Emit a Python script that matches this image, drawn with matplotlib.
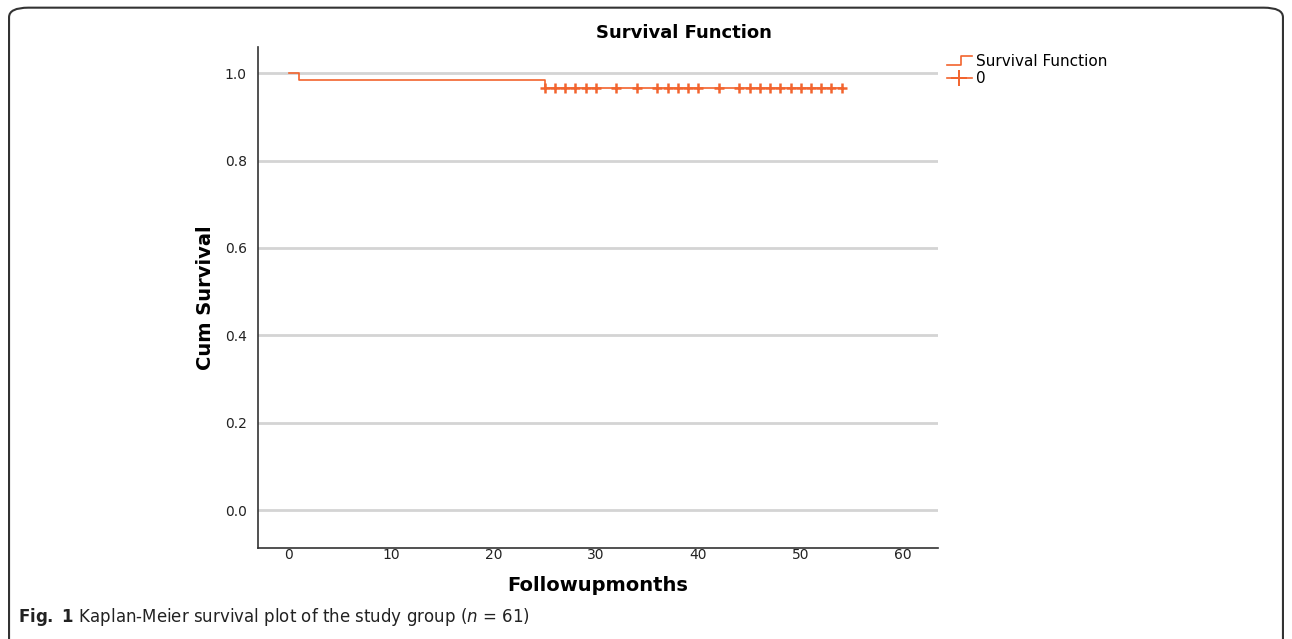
import numpy as np
import matplotlib
matplotlib.use("Agg")
import matplotlib.pyplot as plt
from matplotlib.lines import Line2D
from matplotlib.legend_handler import HandlerBase
from matplotlib.patches import FancyBboxPatch

# Kaplan-Meier step values (n = 61, two events)
step_times = [0, 1, 25, 54]
step_surv = [1.0, 60 / 61, 59 / 61, 59 / 61]

# censored follow-up times (months)
censor_times = [25, 26, 27, 28, 29, 30, 32, 34, 36, 37, 38, 39, 40, 42,
                44, 45, 46, 47, 48, 49, 50, 51, 52, 53, 54]
censor_surv = [59 / 61] * len(censor_times)

xticks = [0, 10, 20, 30, 40, 50, 60]
yticks = [0.0, 0.2, 0.4, 0.6, 0.8, 1.0]

col = "#f2642e"
fontsize = 10


class StepHandler(HandlerBase):
    # small step icon for the survival curve entry
    def create_artists(self, legend, orig_handle, xdescent, ydescent,
                       width, height, fontsize, trans):
        xs = [0, width * 0.55, width * 0.55, width]
        ys = [height * 0.1, height * 0.1, height * 0.9, height * 0.9]
        ln = Line2D(xs, ys, color=orig_handle.get_color(),
                    linewidth=orig_handle.get_linewidth(), transform=trans)
        return [ln]


fig = plt.figure(figsize=(12.92, 6.39), dpi=100)
ax = fig.add_axes([0.1997, 0.1424, 0.5263, 0.784])

for y in yticks:
    ax.axhline(y, color="#d4d4d4", linewidth=2, zorder=1)

ax.step(step_times, step_surv, where="post", color=col, linewidth=1.2, zorder=3)
ax.plot(censor_times, censor_surv, linestyle="none", marker="+", markersize=7,
        markeredgewidth=1.8, color=col, zorder=4)

ax.set_xlim(-3.0, 63.4)
ax.set_ylim(-0.087, 1.06)
ax.set_xticks(xticks)
ax.set_yticks(yticks)
ax.set_xticklabels([str(t) for t in xticks])
ax.set_yticklabels([f"{t:.1f}" for t in yticks])
ax.tick_params(length=0, labelsize=fontsize, colors="#222222", pad=8)
ax.tick_params(axis="x", pad=0)

for s in ["top", "right"]:
    ax.spines[s].set_visible(False)
for s in ["left", "bottom"]:
    ax.spines[s].set_color("#333333")
    ax.spines[s].set_linewidth(1.2)

fig.text(684 / 1292, 1 - 33 / 639, "Survival Function", fontsize=13,
         fontweight="bold", ha="center", va="center")
ax.set_xlabel("Followupmonths", fontsize=14, fontweight="bold", labelpad=10)
ax.set_ylabel("Cum Survival", fontsize=14, fontweight="bold", labelpad=7)

handles = [
    Line2D([], [], color=col, linewidth=1.2),
    Line2D([], [], color=col, linewidth=1.2, marker="+", markersize=12,
           markeredgewidth=1.4),
]
leg = ax.legend(handles, ["Survival Function", "0"], loc="upper left",
                bbox_to_anchor=(1.0, 1.005), frameon=False, fontsize=11,
                handlelength=1.6, handletextpad=0.3, labelspacing=0.15,
                borderaxespad=0.2, handler_map={handles[0]: StepHandler()})

# figure caption and frame
fig.text(0.0139, 1 - 617 / 639,
         r"$\bf{Fig.\ 1}$ Kaplan-Meier survival plot of the study group ($\it{n}$ = 61)",
         fontsize=12, color="#222222", va="center")
frame = FancyBboxPatch((0.007, -0.05), 0.986, 1.038,
                       boxstyle="round,pad=0,rounding_size=0.015",
                       transform=fig.transFigure, fill=False,
                       edgecolor="#333333", linewidth=1.5)
fig.patches.append(frame)

fig.savefig("out.png", dpi=100)
